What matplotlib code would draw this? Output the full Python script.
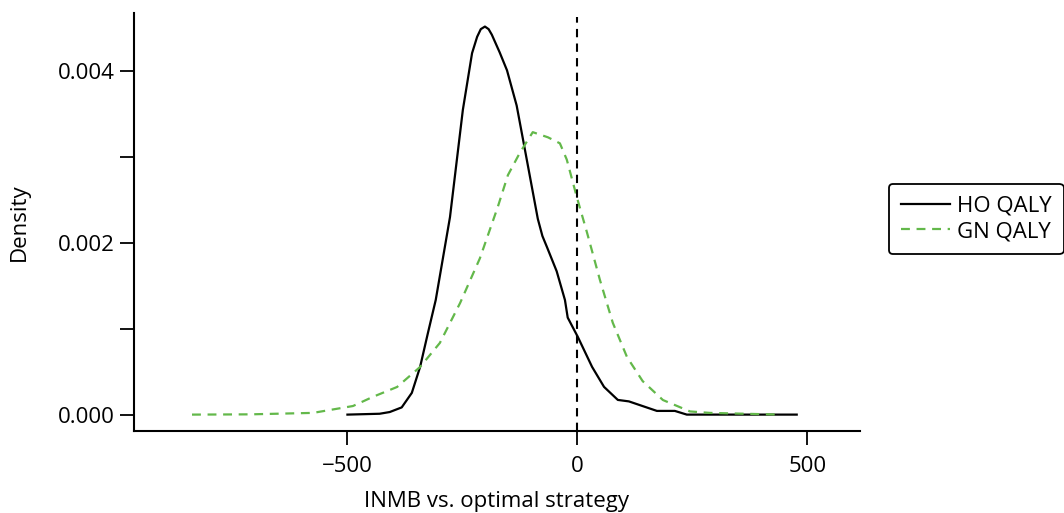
import numpy as np
import matplotlib.pyplot as plt
from matplotlib.ticker import MultipleLocator

plt.rcParams['font.family'] = ['Open Sans', 'DejaVu Sans']

# HO QALY density curve
ho_x = [-500, -430, -408, -382, -360, -342, -325, -308, -277, -249, -229, -218,
        -210, -201, -193, -186, -169, -153, -132, -110, -86, -76, -66, -45, -27,
        -21, 1, 32, 58, 88, 112, 173, 212, 238, 477]
ho_y = [0.0, 0.00001, 0.00003, 0.000084, 0.000253, 0.000555, 0.00095, 0.001335,
        0.0023, 0.00355, 0.00421, 0.00440, 0.00449, 0.00452, 0.00449, 0.004425,
        0.00422, 0.00401, 0.0036, 0.00297, 0.00228, 0.00208, 0.00195, 0.00167,
        0.001335, 0.00113, 0.000905, 0.000556, 0.000323, 0.000171, 0.000154,
        0.000043, 0.000043, 0.0, 0.0]

# GN QALY density curve
gn_x = [-838, -712, -575, -488, -445, -392, -342, -299, -255, -212, -173, -151,
        -125, -97, -64, -38, -23, -1, 21, 49, 77, 108, 142, 186, 245, 288, 440]
gn_y = [0.0, 0.000003, 0.00002, 0.0001, 0.000206, 0.000322, 0.000555, 0.000835,
        0.0013, 0.00182, 0.00242, 0.00279, 0.00305, 0.00329, 0.00323, 0.00316,
        0.00297, 0.00253, 0.00212, 0.00157, 0.00107, 0.00067, 0.00039, 0.00017,
        0.000037, 0.00002, 0.0]

fig = plt.figure(figsize=(10.64, 5.13), dpi=100)
ax = fig.add_axes([0.126, 0.160, 0.682, 0.815])

ax.plot(ho_x, ho_y, color='black', lw=1.6, label='HO QALY')
ax.plot(gn_x, gn_y, color='#63b84a', lw=1.6, ls=(0, (4, 3)), label='GN QALY')
ax.plot([0, 0], [-0.00019, 0.00463], color='black', lw=1.5, ls=(0, (4, 3)))

ax.set_xlim(-964, 614)
ax.set_ylim(-0.00019, 0.00468)
ax.set_xticks([-500, 0, 500])
ax.set_yticks([0.0, 0.002, 0.004])
ax.set_yticklabels(['0.000', '0.002', '0.004'])
ax.yaxis.set_minor_locator(MultipleLocator(0.001))
ax.tick_params(which='both', direction='out', length=10, width=1.3, labelsize=16)
ax.tick_params(axis='x', pad=8)
ax.tick_params(axis='y', pad=4)

for s in ['top', 'right']:
    ax.spines[s].set_visible(False)
for s in ['left', 'bottom']:
    ax.spines[s].set_linewidth(1.5)

ax.set_xlabel('INMB vs. optimal strategy', fontsize=16, labelpad=10)
ax.set_ylabel('Density', fontsize=16, labelpad=20)

leg = fig.legend(loc='center left', bbox_to_anchor=(0.8355, 0.573), fontsize=16,
                 frameon=True, fancybox=True, edgecolor='black', framealpha=1,
                 borderaxespad=0, handlelength=2.2, handletextpad=0.3,
                 borderpad=0.55, labelspacing=0.2)
leg.get_frame().set_linewidth(1.3)

fig.savefig('out.png', dpi=100)
